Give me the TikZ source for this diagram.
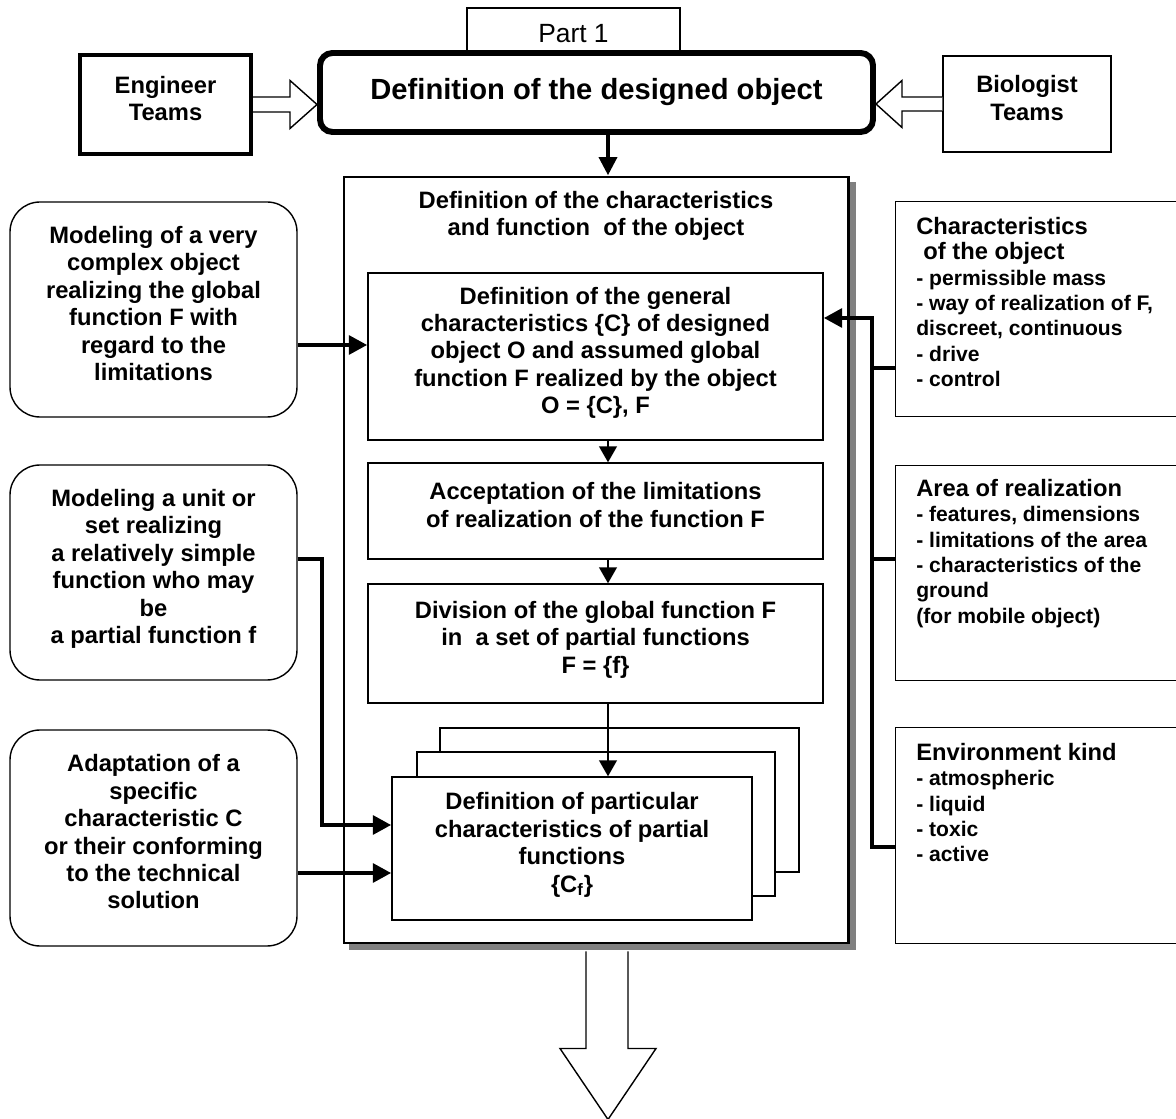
\documentclass[tikz,border=0pt]{standalone}
\usepackage{fontspec}
\setmainfont{Liberation Sans}
\usetikzlibrary{calc,arrows.meta,backgrounds}

\tikzset{
  boxsize/.style 2 args={minimum width=#1*0.2mm, minimum height=#2*0.2mm},
  box/.style={draw, line width=0.8pt, fill=white, inner sep=0pt, align=center},
  textbox/.style={box, text depth=7pt},
  modelbox/.style={textbox, rounded corners=6mm},
  framebox/.style={draw, line width=0.8pt, fill=white, anchor=north west, inner sep=0pt},
  listtext/.style={anchor=north west, align=left, inner sep=0pt, font=\bfseries\fontsize{12}{14.4}\selectfont},
  feed/.style={line width=2.8pt},
  feedarrow/.style={feed, -{Triangle[length=10.5pt,width=10.5pt]}},
  flow/.style={line width=1.1pt, -{Triangle[length=9pt,width=10pt]}},
  hollow/.style={draw, line width=0.8pt, fill=white, line join=miter},
}
\newcommand{\headfont}{\fontsize{13.5}{14.4}\selectfont}

\begin{document}
\begin{tikzpicture}[x=0.2mm, y=-0.2mm, font=\bfseries\fontsize{13.5}{15.6}\selectfont]
  \useasboundingbox (0,0) rectangle (1176,1119);

  % top row
  \node[box, boxsize={213}{52}, font=\fontsize{15}{18}\selectfont] (part) at (573.5,34) {Part 1};
  \node[box, boxsize={553}{79}, line width=3.4pt, rounded corners=2.5mm,
        font=\bfseries\fontsize{16.6}{20}\selectfont] (title) at (596.5,92.5) {Definition of the designed object};
  \node[textbox, boxsize={171}{99}, line width=2.3pt] (eng) at (165.5,104.5) {Engineer\\Teams};
  \node[textbox, boxsize={168}{96}] (bio) at (1027,104) {Biologist\\Teams};

  \coordinate (engtip) at (title.west |- eng.east);
  \draw[hollow] ($(eng.east)+(0,-7.5)$) -- ($(engtip)+(-27,-7.5)$) -- ++(0,-16.5) -- (engtip)
    -- ++(-27,24) -- ++(0,-16.5) -- ($(eng.east)+(0,7.5)$);
  \coordinate (biotip) at (title.east |- bio.west);
  \draw[hollow] ($(bio.west)+(0,-7)$) -- ($(biotip)+(26,-7)$) -- ++(0,-16.5) -- (biotip)
    -- ++(26,23.5) -- ++(0,-16.5) -- ($(bio.west)+(0,7)$);

  % main block
  \node[box, boxsize={504}{766}, line width=1.7pt] (big) at (596,560) {};
  \begin{scope}[on background layer]
    \fill[black!50] ($(big.north west)+(6,6)$) rectangle ($(big.south east)+(6,6)$);
  \end{scope}
  \node[align=center] (head) at (596,216) {Definition of the characteristics\\and function~ of the object};
  \node[textbox, boxsize={455}{167}] (gen) at (595.5,356.5)
    {Definition of the general\\characteristics \{C\} of designed\\object O and assumed global\\function F realized by the object\\O = \{C\}, F};
  \node[textbox, boxsize={455}{96}] (acc) at (595.5,511) {Acceptation of the limitations\\of realization of the function F};
  \node[textbox, boxsize={455}{119}] (div) at (595.5,643.5) {Division of the global function F\\in~ a set of partial functions\\F = \{f\}};
  \node[box, boxsize={359}{144}] (back) at (619.5,800) {};
  \node[box, boxsize={358}{144}] (mid) at (596,824) {};
  \node[textbox, boxsize={360}{143}] (cf) at (572,848.5)
    {Definition of particular\\characteristics of partial\\functions\\\{C\textsubscript{f}\}};

  \coordinate (spine) at (608,0);
  \draw[line width=2.8pt, -{Triangle[length=10.5pt,width=10pt]}] (title.south -| spine) -- (big.north -| spine);
  \draw[flow] (gen.south -| spine) -- (acc.north -| spine);
  \draw[flow] (acc.south -| spine) -- (div.north -| spine);
  \draw[flow] (div.south -| spine) -- (cf.north -| spine);

  % left column
  \node[modelbox, boxsize={287}{215}] (m1) at (153.5,309.5)
    {Modeling of a very\\complex object\\realizing the global\\function F with\\regard to the\\limitations};
  \node[modelbox, boxsize={287}{215}] (m2) at (153.5,572.5)
    {Modeling a unit or\\set realizing\\a relatively simple\\function who may\\be\\a partial function f};
  \node[modelbox, boxsize={287}{216}] (m3) at (153.5,838)
    {Adaptation of a\\specific\\characteristic C\\or their conforming\\to the technical\\solution};

  \coordinate (y1) at (0,345);
  \coordinate (bend) at (322,559);
  \coordinate (y2) at (0,825);
  \coordinate (y3) at (0,873);
  \draw[feedarrow] (m1.east |- y1) -- (gen.west |- y1);
  \draw[feedarrow] (m2.east |- bend) -- (bend) |- (cf.west |- y2);
  \draw[feedarrow] (m3.east |- y3) -- (cf.west |- y3);

  % right column
  \node[framebox, boxsize={405}{215}] (r1) at (895,201) {};
  \node[listtext] (r1txt) at (916,217)
    {{\headfont Characteristics}\\{\headfont\hspace*{4pt}of the object}\\- permissible mass\\- way of realization of F,\\discreet, continuous\\- drive\\- control};
  \node[framebox, boxsize={405}{215}] (r2) at (895,465) {};
  \node[listtext] (r2txt) at (916,479)
    {{\headfont Area of realization}\\- features, dimensions\\- limitations of the area\\- characteristics of the\\ground\\(for mobile object)};
  \node[framebox, boxsize={405}{216}] (r3) at (895,727) {};
  \node[listtext] (r3txt) at (916,743)
    {{\headfont Environment kind}\\- atmospheric\\- liquid\\- toxic\\- active};

  \coordinate (bus) at (872,318);
  \coordinate (y4) at (0,368);
  \coordinate (y5) at (0,559);
  \coordinate (y6) at (0,847);
  \draw[feedarrow] (r3.west |- y6) -| (bus) -- (gen.east |- bus);
  \draw[feed] (r1.west |- y4) -- (bus |- y4);
  \draw[feed] (r2.west |- y5) -- (bus |- y5);

  % output arrow
  \coordinate (out) at (big.south -| spine);
  \draw[hollow] ($(out)+(-22,7)$) -- ++(0,97) -- ++(-26,0) -- ++(48,71) -- ++(48,-71) -- ++(-28,0) -- ++(0,-97);
\end{tikzpicture}
\end{document}
